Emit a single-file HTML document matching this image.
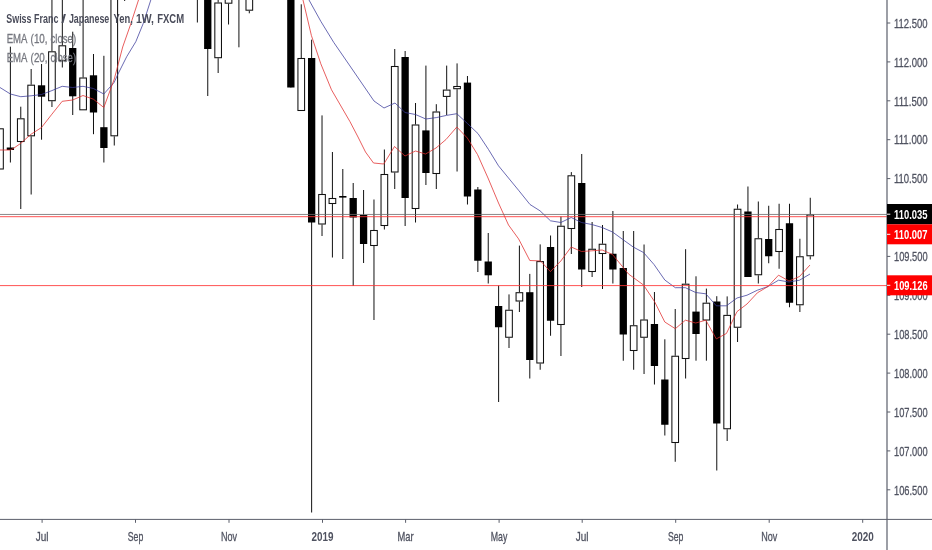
<!DOCTYPE html>
<html><head><meta charset="utf-8"><title>CHFJPY chart</title>
<style>html,body{margin:0;padding:0;background:#fff;}svg{display:block;}text{font-family:"Liberation Sans",Arial,sans-serif;}</style></head><body>
<svg width="932" height="550" viewBox="0 0 932 550">
<rect width="932" height="550" fill="#fff"/>
<rect x="-3.33" y="128.80" width="6.65" height="40.20" fill="#fff" stroke="#111" stroke-width="1.05"/>
<line x1="10.39" y1="46.7" x2="10.39" y2="162.5" stroke="#111" stroke-width="1"/>
<rect x="6.74" y="147.5" width="7.3" height="2.50" fill="#000"/>
<line x1="20.78" y1="106.7" x2="20.78" y2="118.3" stroke="#111" stroke-width="1"/>
<line x1="20.78" y1="142" x2="20.78" y2="209" stroke="#111" stroke-width="1"/>
<rect x="17.45" y="118.80" width="6.65" height="22.70" fill="#fff" stroke="#111" stroke-width="1.05"/>
<line x1="31.16" y1="69" x2="31.16" y2="84.7" stroke="#111" stroke-width="1"/>
<line x1="31.16" y1="136.3" x2="31.16" y2="194.5" stroke="#111" stroke-width="1"/>
<rect x="27.84" y="85.20" width="6.65" height="50.60" fill="#fff" stroke="#111" stroke-width="1.05"/>
<line x1="41.55" y1="64" x2="41.55" y2="139.7" stroke="#111" stroke-width="1"/>
<rect x="37.90" y="85.3" width="7.3" height="11.40" fill="#000"/>
<line x1="51.94" y1="-5" x2="51.94" y2="51.3" stroke="#111" stroke-width="1"/>
<line x1="51.94" y1="101.2" x2="51.94" y2="107" stroke="#111" stroke-width="1"/>
<rect x="48.61" y="51.80" width="6.65" height="48.90" fill="#fff" stroke="#111" stroke-width="1.05"/>
<line x1="62.33" y1="-5" x2="62.33" y2="45.3" stroke="#111" stroke-width="1"/>
<line x1="62.33" y1="60.8" x2="62.33" y2="67.5" stroke="#111" stroke-width="1"/>
<rect x="59.00" y="45.80" width="6.65" height="14.50" fill="#fff" stroke="#111" stroke-width="1.05"/>
<line x1="72.72" y1="31.7" x2="72.72" y2="115" stroke="#111" stroke-width="1"/>
<rect x="69.07" y="48" width="7.3" height="48.30" fill="#000"/>
<line x1="83.10" y1="-5" x2="83.10" y2="77.5" stroke="#111" stroke-width="1"/>
<line x1="83.10" y1="110.3" x2="83.10" y2="110.3" stroke="#111" stroke-width="1"/>
<rect x="79.78" y="78.00" width="6.65" height="31.80" fill="#fff" stroke="#111" stroke-width="1.05"/>
<line x1="93.49" y1="54" x2="93.49" y2="134.2" stroke="#111" stroke-width="1"/>
<rect x="89.84" y="75.3" width="7.3" height="37.20" fill="#000"/>
<line x1="103.88" y1="55.8" x2="103.88" y2="162.5" stroke="#111" stroke-width="1"/>
<rect x="100.23" y="127.2" width="7.3" height="20.80" fill="#000"/>
<line x1="114.27" y1="-5" x2="114.27" y2="-5" stroke="#111" stroke-width="1"/>
<line x1="114.27" y1="136.3" x2="114.27" y2="145.5" stroke="#111" stroke-width="1"/>
<rect x="110.94" y="-4.50" width="6.65" height="140.30" fill="#fff" stroke="#111" stroke-width="1.05"/>
<line x1="124.66" y1="-5" x2="124.66" y2="1" stroke="#111" stroke-width="1"/>
<line x1="197.37" y1="-5" x2="197.37" y2="22.5" stroke="#111" stroke-width="1"/>
<line x1="207.76" y1="-5" x2="207.76" y2="96" stroke="#111" stroke-width="1"/>
<rect x="204.11" y="-5" width="7.3" height="54.00" fill="#000"/>
<line x1="218.15" y1="-5" x2="218.15" y2="2.5" stroke="#111" stroke-width="1"/>
<line x1="218.15" y1="58.2" x2="218.15" y2="73" stroke="#111" stroke-width="1"/>
<rect x="214.82" y="3.00" width="6.65" height="54.70" fill="#fff" stroke="#111" stroke-width="1.05"/>
<line x1="228.54" y1="-5" x2="228.54" y2="-5" stroke="#111" stroke-width="1"/>
<line x1="228.54" y1="3.7" x2="228.54" y2="24.5" stroke="#111" stroke-width="1"/>
<rect x="225.21" y="-4.50" width="6.65" height="7.70" fill="#fff" stroke="#111" stroke-width="1.05"/>
<line x1="238.92" y1="-5" x2="238.92" y2="47.3" stroke="#111" stroke-width="1"/>
<line x1="249.31" y1="-5" x2="249.31" y2="-5" stroke="#111" stroke-width="1"/>
<line x1="249.31" y1="10.7" x2="249.31" y2="13.3" stroke="#111" stroke-width="1"/>
<rect x="245.99" y="-4.50" width="6.65" height="14.70" fill="#fff" stroke="#111" stroke-width="1.05"/>
<line x1="290.86" y1="-5" x2="290.86" y2="87.5" stroke="#111" stroke-width="1"/>
<rect x="287.21" y="-5" width="7.3" height="92.50" fill="#000"/>
<line x1="301.25" y1="4.3" x2="301.25" y2="58" stroke="#111" stroke-width="1"/>
<line x1="301.25" y1="111" x2="301.25" y2="111" stroke="#111" stroke-width="1"/>
<rect x="297.93" y="58.50" width="6.65" height="52.00" fill="#fff" stroke="#111" stroke-width="1.05"/>
<line x1="311.64" y1="39.7" x2="311.64" y2="512.5" stroke="#111" stroke-width="1"/>
<rect x="307.99" y="58" width="7.3" height="164.50" fill="#000"/>
<line x1="322.03" y1="115.4" x2="322.03" y2="194" stroke="#111" stroke-width="1"/>
<line x1="322.03" y1="224.5" x2="322.03" y2="236" stroke="#111" stroke-width="1"/>
<rect x="318.70" y="194.50" width="6.65" height="29.50" fill="#fff" stroke="#111" stroke-width="1.05"/>
<line x1="332.42" y1="152" x2="332.42" y2="198" stroke="#111" stroke-width="1"/>
<line x1="332.42" y1="204" x2="332.42" y2="257.5" stroke="#111" stroke-width="1"/>
<rect x="329.09" y="198.50" width="6.65" height="5.00" fill="#fff" stroke="#111" stroke-width="1.05"/>
<line x1="342.80" y1="169" x2="342.80" y2="259" stroke="#111" stroke-width="1"/>
<rect x="339.15" y="196" width="7.3" height="1.60" fill="#000"/>
<line x1="353.19" y1="183" x2="353.19" y2="286" stroke="#111" stroke-width="1"/>
<rect x="349.54" y="198" width="7.3" height="19.50" fill="#000"/>
<line x1="363.58" y1="190" x2="363.58" y2="263" stroke="#111" stroke-width="1"/>
<rect x="359.93" y="215" width="7.3" height="29.00" fill="#000"/>
<line x1="373.97" y1="199.5" x2="373.97" y2="230" stroke="#111" stroke-width="1"/>
<line x1="373.97" y1="246" x2="373.97" y2="320" stroke="#111" stroke-width="1"/>
<rect x="370.64" y="230.50" width="6.65" height="15.00" fill="#fff" stroke="#111" stroke-width="1.05"/>
<line x1="384.36" y1="149.5" x2="384.36" y2="174" stroke="#111" stroke-width="1"/>
<line x1="384.36" y1="226" x2="384.36" y2="229.5" stroke="#111" stroke-width="1"/>
<rect x="381.03" y="174.50" width="6.65" height="51.00" fill="#fff" stroke="#111" stroke-width="1.05"/>
<line x1="394.74" y1="49" x2="394.74" y2="66" stroke="#111" stroke-width="1"/>
<line x1="394.74" y1="172.5" x2="394.74" y2="189" stroke="#111" stroke-width="1"/>
<rect x="391.42" y="66.50" width="6.65" height="105.50" fill="#fff" stroke="#111" stroke-width="1.05"/>
<line x1="405.13" y1="51" x2="405.13" y2="226" stroke="#111" stroke-width="1"/>
<rect x="401.48" y="57" width="7.3" height="141.00" fill="#000"/>
<line x1="415.52" y1="103" x2="415.52" y2="124.5" stroke="#111" stroke-width="1"/>
<line x1="415.52" y1="209" x2="415.52" y2="222.5" stroke="#111" stroke-width="1"/>
<rect x="412.19" y="125.00" width="6.65" height="83.50" fill="#fff" stroke="#111" stroke-width="1.05"/>
<line x1="425.91" y1="65.6" x2="425.91" y2="185" stroke="#111" stroke-width="1"/>
<rect x="422.26" y="130.4" width="7.3" height="42.60" fill="#000"/>
<line x1="436.30" y1="104.2" x2="436.30" y2="111.5" stroke="#111" stroke-width="1"/>
<line x1="436.30" y1="174" x2="436.30" y2="189" stroke="#111" stroke-width="1"/>
<rect x="432.97" y="112.00" width="6.65" height="61.50" fill="#fff" stroke="#111" stroke-width="1.05"/>
<line x1="446.68" y1="65.6" x2="446.68" y2="89.6" stroke="#111" stroke-width="1"/>
<line x1="446.68" y1="96.9" x2="446.68" y2="115" stroke="#111" stroke-width="1"/>
<rect x="443.36" y="90.10" width="6.65" height="6.30" fill="#fff" stroke="#111" stroke-width="1.05"/>
<line x1="457.07" y1="63.4" x2="457.07" y2="86" stroke="#111" stroke-width="1"/>
<line x1="457.07" y1="89.2" x2="457.07" y2="171.5" stroke="#111" stroke-width="1"/>
<rect x="453.75" y="86.50" width="6.65" height="2.20" fill="#fff" stroke="#111" stroke-width="1.05"/>
<line x1="467.46" y1="76" x2="467.46" y2="204.5" stroke="#111" stroke-width="1"/>
<rect x="463.81" y="82.6" width="7.3" height="113.90" fill="#000"/>
<line x1="477.85" y1="187" x2="477.85" y2="272" stroke="#111" stroke-width="1"/>
<rect x="474.20" y="189.5" width="7.3" height="71.25" fill="#000"/>
<line x1="488.24" y1="233" x2="488.24" y2="283.5" stroke="#111" stroke-width="1"/>
<rect x="484.59" y="261.5" width="7.3" height="13.80" fill="#000"/>
<line x1="498.62" y1="285.5" x2="498.62" y2="402" stroke="#111" stroke-width="1"/>
<rect x="494.97" y="306" width="7.3" height="21.25" fill="#000"/>
<line x1="509.01" y1="294.4" x2="509.01" y2="309.75" stroke="#111" stroke-width="1"/>
<line x1="509.01" y1="337.75" x2="509.01" y2="348" stroke="#111" stroke-width="1"/>
<rect x="505.69" y="310.25" width="6.65" height="27.00" fill="#fff" stroke="#111" stroke-width="1.05"/>
<line x1="519.40" y1="245.6" x2="519.40" y2="292.2" stroke="#111" stroke-width="1"/>
<line x1="519.40" y1="301.5" x2="519.40" y2="312" stroke="#111" stroke-width="1"/>
<rect x="516.07" y="292.70" width="6.65" height="8.30" fill="#fff" stroke="#111" stroke-width="1.05"/>
<line x1="529.79" y1="273.9" x2="529.79" y2="378.5" stroke="#111" stroke-width="1"/>
<rect x="526.14" y="292.2" width="7.3" height="67.80" fill="#000"/>
<line x1="540.18" y1="244.4" x2="540.18" y2="261.1" stroke="#111" stroke-width="1"/>
<line x1="540.18" y1="363.5" x2="540.18" y2="369.75" stroke="#111" stroke-width="1"/>
<rect x="536.85" y="261.60" width="6.65" height="101.40" fill="#fff" stroke="#111" stroke-width="1.05"/>
<line x1="550.56" y1="235.5" x2="550.56" y2="335.75" stroke="#111" stroke-width="1"/>
<rect x="546.91" y="247" width="7.3" height="73.75" fill="#000"/>
<line x1="560.95" y1="216.5" x2="560.95" y2="225.75" stroke="#111" stroke-width="1"/>
<line x1="560.95" y1="325" x2="560.95" y2="356" stroke="#111" stroke-width="1"/>
<rect x="557.63" y="226.25" width="6.65" height="98.25" fill="#fff" stroke="#111" stroke-width="1.05"/>
<line x1="571.34" y1="172.1" x2="571.34" y2="175.3" stroke="#111" stroke-width="1"/>
<line x1="571.34" y1="229" x2="571.34" y2="254" stroke="#111" stroke-width="1"/>
<rect x="568.01" y="175.80" width="6.65" height="52.70" fill="#fff" stroke="#111" stroke-width="1.05"/>
<line x1="581.73" y1="154" x2="581.73" y2="287" stroke="#111" stroke-width="1"/>
<rect x="578.08" y="183" width="7.3" height="86.50" fill="#000"/>
<line x1="592.12" y1="222" x2="592.12" y2="248.75" stroke="#111" stroke-width="1"/>
<line x1="592.12" y1="272" x2="592.12" y2="277" stroke="#111" stroke-width="1"/>
<rect x="588.79" y="249.25" width="6.65" height="22.25" fill="#fff" stroke="#111" stroke-width="1.05"/>
<line x1="602.50" y1="225" x2="602.50" y2="243.75" stroke="#111" stroke-width="1"/>
<line x1="602.50" y1="254" x2="602.50" y2="289" stroke="#111" stroke-width="1"/>
<rect x="599.18" y="244.25" width="6.65" height="9.25" fill="#fff" stroke="#111" stroke-width="1.05"/>
<line x1="612.89" y1="211" x2="612.89" y2="283.5" stroke="#111" stroke-width="1"/>
<rect x="609.24" y="253.75" width="7.3" height="15.75" fill="#000"/>
<line x1="623.28" y1="231" x2="623.28" y2="360.75" stroke="#111" stroke-width="1"/>
<rect x="619.63" y="268" width="7.3" height="66.50" fill="#000"/>
<line x1="633.67" y1="231" x2="633.67" y2="325.25" stroke="#111" stroke-width="1"/>
<line x1="633.67" y1="351" x2="633.67" y2="369.75" stroke="#111" stroke-width="1"/>
<rect x="630.34" y="325.75" width="6.65" height="24.75" fill="#fff" stroke="#111" stroke-width="1.05"/>
<line x1="644.06" y1="244.5" x2="644.06" y2="319.5" stroke="#111" stroke-width="1"/>
<line x1="644.06" y1="337.75" x2="644.06" y2="374" stroke="#111" stroke-width="1"/>
<rect x="640.73" y="320.00" width="6.65" height="17.25" fill="#fff" stroke="#111" stroke-width="1.05"/>
<line x1="654.44" y1="292" x2="654.44" y2="384.5" stroke="#111" stroke-width="1"/>
<rect x="650.79" y="324" width="7.3" height="42.00" fill="#000"/>
<line x1="664.83" y1="339.3" x2="664.83" y2="435.5" stroke="#111" stroke-width="1"/>
<rect x="661.18" y="379.5" width="7.3" height="45.25" fill="#000"/>
<line x1="675.22" y1="309" x2="675.22" y2="355.75" stroke="#111" stroke-width="1"/>
<line x1="675.22" y1="443" x2="675.22" y2="461.75" stroke="#111" stroke-width="1"/>
<rect x="671.89" y="356.25" width="6.65" height="86.25" fill="#fff" stroke="#111" stroke-width="1.05"/>
<line x1="685.61" y1="249.2" x2="685.61" y2="283.7" stroke="#111" stroke-width="1"/>
<line x1="685.61" y1="359" x2="685.61" y2="378.5" stroke="#111" stroke-width="1"/>
<rect x="682.28" y="284.20" width="6.65" height="74.30" fill="#fff" stroke="#111" stroke-width="1.05"/>
<line x1="696.00" y1="276.3" x2="696.00" y2="360.7" stroke="#111" stroke-width="1"/>
<rect x="692.35" y="311.6" width="7.3" height="22.40" fill="#000"/>
<line x1="706.38" y1="288.6" x2="706.38" y2="302.7" stroke="#111" stroke-width="1"/>
<line x1="706.38" y1="320.5" x2="706.38" y2="360.7" stroke="#111" stroke-width="1"/>
<rect x="703.06" y="303.20" width="6.65" height="16.80" fill="#fff" stroke="#111" stroke-width="1.05"/>
<line x1="716.77" y1="296.2" x2="716.77" y2="470.5" stroke="#111" stroke-width="1"/>
<rect x="713.12" y="301.5" width="7.3" height="122.00" fill="#000"/>
<line x1="727.16" y1="296.4" x2="727.16" y2="314.9" stroke="#111" stroke-width="1"/>
<line x1="727.16" y1="429.25" x2="727.16" y2="441" stroke="#111" stroke-width="1"/>
<rect x="723.83" y="315.40" width="6.65" height="113.35" fill="#fff" stroke="#111" stroke-width="1.05"/>
<line x1="737.55" y1="204.5" x2="737.55" y2="208.75" stroke="#111" stroke-width="1"/>
<line x1="737.55" y1="327.75" x2="737.55" y2="342" stroke="#111" stroke-width="1"/>
<rect x="734.22" y="209.25" width="6.65" height="118.00" fill="#fff" stroke="#111" stroke-width="1.05"/>
<line x1="747.94" y1="186.5" x2="747.94" y2="277" stroke="#111" stroke-width="1"/>
<rect x="744.29" y="211.5" width="7.3" height="65.50" fill="#000"/>
<line x1="758.32" y1="201.5" x2="758.32" y2="238.25" stroke="#111" stroke-width="1"/>
<line x1="758.32" y1="275.25" x2="758.32" y2="283.5" stroke="#111" stroke-width="1"/>
<rect x="755.00" y="238.75" width="6.65" height="36.00" fill="#fff" stroke="#111" stroke-width="1.05"/>
<line x1="768.71" y1="205.75" x2="768.71" y2="263.25" stroke="#111" stroke-width="1"/>
<rect x="765.06" y="239" width="7.3" height="17.25" fill="#000"/>
<line x1="779.10" y1="203.75" x2="779.10" y2="229" stroke="#111" stroke-width="1"/>
<line x1="779.10" y1="252" x2="779.10" y2="268.75" stroke="#111" stroke-width="1"/>
<rect x="775.77" y="229.50" width="6.65" height="22.00" fill="#fff" stroke="#111" stroke-width="1.05"/>
<line x1="789.49" y1="203.75" x2="789.49" y2="307.25" stroke="#111" stroke-width="1"/>
<rect x="785.84" y="223.25" width="7.3" height="79.50" fill="#000"/>
<line x1="799.88" y1="238.75" x2="799.88" y2="256.25" stroke="#111" stroke-width="1"/>
<line x1="799.88" y1="305.25" x2="799.88" y2="312" stroke="#111" stroke-width="1"/>
<rect x="796.55" y="256.75" width="6.65" height="48.00" fill="#fff" stroke="#111" stroke-width="1.05"/>
<line x1="810.26" y1="197.75" x2="810.26" y2="214.5" stroke="#111" stroke-width="1"/>
<line x1="810.26" y1="256.25" x2="810.26" y2="259.5" stroke="#111" stroke-width="1"/>
<rect x="806.94" y="215.00" width="6.65" height="40.75" fill="#fff" stroke="#111" stroke-width="1.05"/>
<polyline fill="none" stroke="#3a3a9a" stroke-width="0.75" stroke-linejoin="round" points="-2.0,87.0 0.0,87.5 10.4,94.0 20.8,96.7 31.1,95.8 41.5,94.5 51.9,90.6 62.2,86.3 72.6,87.5 83.0,86.3 93.4,88.5 103.8,94.0 114.1,82.5 117.5,75.0 126.7,56.7 135.8,41.7 143.3,23.3 150.8,0.0 153.0,-6.0"/>
<polyline fill="none" stroke="#3a3a9a" stroke-width="0.75" stroke-linejoin="round" points="307.0,-6.0 309.0,0.0 320.8,21.3 333.8,42.5 350.0,66.0 374.0,101.0 384.0,108.0 395.0,103.0 405.0,112.5 415.5,114.5 425.8,119.0 436.3,117.6 446.5,115.4 456.8,113.7 467.3,123.4 478.0,133.6 488.5,149.5 498.5,165.8 508.5,178.0 519.0,190.8 530.0,204.5 540.0,210.8 550.5,220.8 560.8,222.5 571.2,217.5 581.5,222.5 591.8,224.5 602.2,227.5 612.5,232.0 622.8,239.5 633.2,247.0 643.5,252.5 654.0,264.5 664.8,280.0 675.3,287.7 685.4,287.7 695.7,292.5 705.8,293.8 716.3,305.8 726.4,305.8 737.0,298.0 747.0,295.2 757.4,290.2 768.0,286.5 778.5,280.2 789.0,282.0 799.5,280.2 810.0,274.0"/>
<polyline fill="none" stroke="#e02a2a" stroke-width="0.75" stroke-linejoin="round" points="-2.0,150.0 0.0,150.0 10.4,150.0 14.0,148.0 20.8,143.3 31.1,134.2 41.5,127.5 51.9,114.2 62.2,101.3 72.6,100.0 83.0,95.5 93.4,99.2 103.8,107.5 114.3,79.0 122.7,47.0 130.4,25.0 138.5,0.0 140.5,-6.0"/>
<polyline fill="none" stroke="#e02a2a" stroke-width="0.75" stroke-linejoin="round" points="301.5,-6.0 303.0,0.0 311.4,35.5 320.8,63.8 331.5,89.8 350.0,121.7 358.0,137.0 365.5,152.0 373.5,163.0 383.8,164.0 394.5,146.5 405.0,156.0 415.5,151.0 425.5,154.0 436.0,148.0 446.0,139.5 456.8,127.0 467.3,138.0 477.5,154.5 488.0,178.0 498.5,203.0 508.5,225.0 518.6,238.9 529.8,260.5 540.5,260.9 550.4,271.6 560.8,261.0 571.2,247.0 581.5,251.5 591.8,250.8 602.2,250.0 612.5,254.5 622.8,267.0 628.5,274.0 643.5,285.0 654.5,301.5 664.8,322.0 675.3,328.7 685.4,320.2 695.7,323.0 705.8,320.2 716.3,338.9 726.4,333.5 737.0,311.6 747.0,304.0 757.4,292.8 768.0,286.5 778.5,275.2 789.0,281.0 799.5,276.5 810.0,265.0"/>
<line x1="0" y1="214.45" x2="887" y2="214.45" stroke="#6a6a6a" stroke-width="0.8"/>
<line x1="0" y1="216.7" x2="887" y2="216.7" stroke="#ff3434" stroke-width="0.85"/>
<line x1="0" y1="285.6" x2="887" y2="285.6" stroke="#ff3434" stroke-width="0.85"/>
<text y="23" font-size="13.2" fill="#4a4c5a" font-weight="bold"><tspan x="6.3" textLength="25.2" lengthAdjust="spacingAndGlyphs">Swiss</tspan> <tspan x="34.1" textLength="24.3" lengthAdjust="spacingAndGlyphs">Franc</tspan> <tspan x="61.3" textLength="4.8" lengthAdjust="spacingAndGlyphs">/</tspan> <tspan x="68.9" textLength="40.4" lengthAdjust="spacingAndGlyphs">Japanese</tspan> <tspan x="113.5" textLength="19.4" lengthAdjust="spacingAndGlyphs">Yen,</tspan> <tspan x="136.0" textLength="18.0" lengthAdjust="spacingAndGlyphs">1W,</tspan> <tspan x="157.2" textLength="26.9" lengthAdjust="spacingAndGlyphs">FXCM</tspan></text>
<text y="42.6" font-size="13.2" fill="#75777f" stroke="#75777f" stroke-width="0.3"><tspan x="6.7" textLength="20.2" lengthAdjust="spacingAndGlyphs">EMA</tspan> <tspan x="30.6" textLength="17.0" lengthAdjust="spacingAndGlyphs">(10,</tspan> <tspan x="50.5" textLength="25.6" lengthAdjust="spacingAndGlyphs">close)</tspan></text>
<text y="62.3" font-size="13.2" fill="#75777f" stroke="#75777f" stroke-width="0.3"><tspan x="6.7" textLength="20.2" lengthAdjust="spacingAndGlyphs">EMA</tspan> <tspan x="30.6" textLength="17.0" lengthAdjust="spacingAndGlyphs">(20,</tspan> <tspan x="50.5" textLength="25.6" lengthAdjust="spacingAndGlyphs">close)</tspan></text>
<rect x="887.5" y="0" width="45" height="519" fill="#fff"/>
<rect x="0" y="520" width="932" height="30" fill="#fff"/>
<line x1="887" y1="0" x2="887" y2="550" stroke="#5b5e6b" stroke-width="1.2"/>
<line x1="0" y1="519.4" x2="932" y2="519.4" stroke="#5b5e6b" stroke-width="1"/>
<line x1="887" y1="23.0" x2="890.3" y2="23.0" stroke="#5b5e6b" stroke-width="1"/>
<text x="894.0" y="27.7" font-size="13.2" fill="#4f5260" stroke="#4f5260" stroke-width="0.3" textLength="33.6" lengthAdjust="spacingAndGlyphs">112.500</text>
<line x1="887" y1="61.9" x2="890.3" y2="61.9" stroke="#5b5e6b" stroke-width="1"/>
<text x="894.0" y="66.6" font-size="13.2" fill="#4f5260" stroke="#4f5260" stroke-width="0.3" textLength="33.6" lengthAdjust="spacingAndGlyphs">112.000</text>
<line x1="887" y1="100.8" x2="890.3" y2="100.8" stroke="#5b5e6b" stroke-width="1"/>
<text x="894.0" y="105.5" font-size="13.2" fill="#4f5260" stroke="#4f5260" stroke-width="0.3" textLength="33.6" lengthAdjust="spacingAndGlyphs">111.500</text>
<line x1="887" y1="139.7" x2="890.3" y2="139.7" stroke="#5b5e6b" stroke-width="1"/>
<text x="894.0" y="144.4" font-size="13.2" fill="#4f5260" stroke="#4f5260" stroke-width="0.3" textLength="33.6" lengthAdjust="spacingAndGlyphs">111.000</text>
<line x1="887" y1="178.6" x2="890.3" y2="178.6" stroke="#5b5e6b" stroke-width="1"/>
<text x="894.0" y="183.3" font-size="13.2" fill="#4f5260" stroke="#4f5260" stroke-width="0.3" textLength="33.6" lengthAdjust="spacingAndGlyphs">110.500</text>
<line x1="887" y1="256.4" x2="890.3" y2="256.4" stroke="#5b5e6b" stroke-width="1"/>
<text x="894.0" y="261.1" font-size="13.2" fill="#4f5260" stroke="#4f5260" stroke-width="0.3" textLength="33.6" lengthAdjust="spacingAndGlyphs">109.500</text>
<line x1="887" y1="295.3" x2="890.3" y2="295.3" stroke="#5b5e6b" stroke-width="1"/>
<text x="894.0" y="300.0" font-size="13.2" fill="#4f5260" stroke="#4f5260" stroke-width="0.3" textLength="33.6" lengthAdjust="spacingAndGlyphs">109.000</text>
<line x1="887" y1="334.2" x2="890.3" y2="334.2" stroke="#5b5e6b" stroke-width="1"/>
<text x="894.0" y="338.9" font-size="13.2" fill="#4f5260" stroke="#4f5260" stroke-width="0.3" textLength="33.6" lengthAdjust="spacingAndGlyphs">108.500</text>
<line x1="887" y1="373.1" x2="890.3" y2="373.1" stroke="#5b5e6b" stroke-width="1"/>
<text x="894.0" y="377.8" font-size="13.2" fill="#4f5260" stroke="#4f5260" stroke-width="0.3" textLength="33.6" lengthAdjust="spacingAndGlyphs">108.000</text>
<line x1="887" y1="412.0" x2="890.3" y2="412.0" stroke="#5b5e6b" stroke-width="1"/>
<text x="894.0" y="416.7" font-size="13.2" fill="#4f5260" stroke="#4f5260" stroke-width="0.3" textLength="33.6" lengthAdjust="spacingAndGlyphs">107.500</text>
<line x1="887" y1="450.9" x2="890.3" y2="450.9" stroke="#5b5e6b" stroke-width="1"/>
<text x="894.0" y="455.6" font-size="13.2" fill="#4f5260" stroke="#4f5260" stroke-width="0.3" textLength="33.6" lengthAdjust="spacingAndGlyphs">107.000</text>
<line x1="887" y1="489.8" x2="890.3" y2="489.8" stroke="#5b5e6b" stroke-width="1"/>
<text x="894.0" y="494.5" font-size="13.2" fill="#4f5260" stroke="#4f5260" stroke-width="0.3" textLength="33.6" lengthAdjust="spacingAndGlyphs">106.500</text>
<rect x="887" y="204" width="45" height="20.3" fill="#000"/>
<line x1="887" y1="214.2" x2="890.3" y2="214.2" stroke="#fff" stroke-width="1"/>
<text x="894.0" y="218.8" font-size="13.2" fill="#fff" font-weight="bold" textLength="33.6" lengthAdjust="spacingAndGlyphs">110.035</text>
<rect x="887" y="224.3" width="45" height="20.0" fill="#ff0000"/>
<line x1="887" y1="234.3" x2="890.3" y2="234.3" stroke="#fff" stroke-width="1"/>
<text x="894.0" y="239.0" font-size="13.2" fill="#fff" font-weight="bold" textLength="33.6" lengthAdjust="spacingAndGlyphs">110.007</text>
<rect x="887" y="275.3" width="45" height="20.0" fill="#ff0000"/>
<line x1="887" y1="285.3" x2="890.3" y2="285.3" stroke="#fff" stroke-width="1"/>
<text x="894.0" y="290.0" font-size="13.2" fill="#fff" font-weight="bold" textLength="33.6" lengthAdjust="spacingAndGlyphs">109.126</text>
<line x1="42.1" y1="519.4" x2="42.1" y2="522.8" stroke="#5b5e6b" stroke-width="1"/>
<text x="42.1" y="541.2" font-size="13.2" fill="#4f5260" text-anchor="middle" stroke="#4f5260" stroke-width="0.3" textLength="12.8" lengthAdjust="spacingAndGlyphs">Jul</text>
<line x1="135.5" y1="519.4" x2="135.5" y2="522.8" stroke="#5b5e6b" stroke-width="1"/>
<text x="135.5" y="541.2" font-size="13.2" fill="#4f5260" text-anchor="middle" stroke="#4f5260" stroke-width="0.3" textLength="15.5" lengthAdjust="spacingAndGlyphs">Sep</text>
<line x1="229.0" y1="519.4" x2="229.0" y2="522.8" stroke="#5b5e6b" stroke-width="1"/>
<text x="229.0" y="541.2" font-size="13.2" fill="#4f5260" text-anchor="middle" stroke="#4f5260" stroke-width="0.3" textLength="16.1" lengthAdjust="spacingAndGlyphs">Nov</text>
<line x1="322.5" y1="519.4" x2="322.5" y2="522.8" stroke="#5b5e6b" stroke-width="1"/>
<text x="322.5" y="541.2" font-size="13.2" fill="#4f5260" font-weight="bold" text-anchor="middle" textLength="22" lengthAdjust="spacingAndGlyphs">2019</text>
<line x1="405.6" y1="519.4" x2="405.6" y2="522.8" stroke="#5b5e6b" stroke-width="1"/>
<text x="405.6" y="541.2" font-size="13.2" fill="#4f5260" text-anchor="middle" stroke="#4f5260" stroke-width="0.3" textLength="16.1" lengthAdjust="spacingAndGlyphs">Mar</text>
<line x1="499.1" y1="519.4" x2="499.1" y2="522.8" stroke="#5b5e6b" stroke-width="1"/>
<text x="499.1" y="541.2" font-size="13.2" fill="#4f5260" text-anchor="middle" stroke="#4f5260" stroke-width="0.3" textLength="16.6" lengthAdjust="spacingAndGlyphs">May</text>
<line x1="582.2" y1="519.4" x2="582.2" y2="522.8" stroke="#5b5e6b" stroke-width="1"/>
<text x="582.2" y="541.2" font-size="13.2" fill="#4f5260" text-anchor="middle" stroke="#4f5260" stroke-width="0.3" textLength="12.8" lengthAdjust="spacingAndGlyphs">Jul</text>
<line x1="675.7" y1="519.4" x2="675.7" y2="522.8" stroke="#5b5e6b" stroke-width="1"/>
<text x="675.7" y="541.2" font-size="13.2" fill="#4f5260" text-anchor="middle" stroke="#4f5260" stroke-width="0.3" textLength="15.5" lengthAdjust="spacingAndGlyphs">Sep</text>
<line x1="769.2" y1="519.4" x2="769.2" y2="522.8" stroke="#5b5e6b" stroke-width="1"/>
<text x="769.2" y="541.2" font-size="13.2" fill="#4f5260" text-anchor="middle" stroke="#4f5260" stroke-width="0.3" textLength="16.1" lengthAdjust="spacingAndGlyphs">Nov</text>
<line x1="862.7" y1="519.4" x2="862.7" y2="522.8" stroke="#5b5e6b" stroke-width="1"/>
<text x="862.7" y="541.2" font-size="13.2" fill="#4f5260" font-weight="bold" text-anchor="middle" textLength="22" lengthAdjust="spacingAndGlyphs">2020</text>
</svg></body></html>
